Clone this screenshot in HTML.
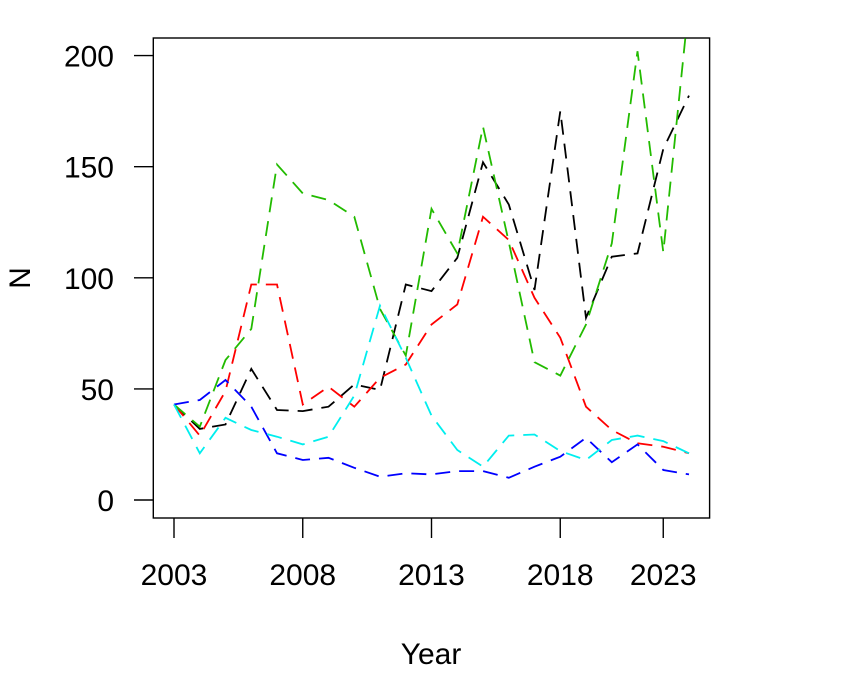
<!DOCTYPE html>
<html><head><meta charset="utf-8"><style>
html,body{margin:0;padding:0;background:#fff;}
svg text{font-family:"Liberation Sans",Arial,sans-serif;fill:#000;}
</style></head><body>
<svg id="chart" width="864" height="672" viewBox="0 0 864 672" xmlns="http://www.w3.org/2000/svg">
<defs><clipPath id="plotclip"><rect x="153.3" y="38" width="556.3" height="480"/></clipPath></defs>
<rect x="153.3" y="38" width="556.3" height="480" fill="none" stroke="#000" stroke-width="1.4"/>
<g id="axes"></g>
<g id="series" clip-path="url(#plotclip)"></g>
<text x="431" y="664" font-size="30" text-anchor="middle">Year</text>
<text transform="translate(30,278) rotate(-90)" font-size="30" text-anchor="middle">N</text>
</svg>
<script>
const xTickIdx = [0, 5, 10, 15, 19];
const xTickLabels = ["2003", "2008", "2013", "2018", "2023"];
const yTicks = [0, 50, 100, 150, 200];
const seriesNames = ["black", "red", "green", "blue", "cyan"];
const seriesColors = ["#000000", "#ff0000", "#22bb00", "#0000ff", "#00eeee"];
const blackVals = [43, 32, 34, 59, 40.5, 40, 42, 52, 49.5, 97, 94, 109, 152, 133, 94.5, 175, 82, 109.5, 111, 158, 182];
const redVals = [43, 29, 49, 97, 97, 43, 51, 42, 55, 61, 79, 88, 127.5, 117, 91, 73, 42, 31.5, 25.5, 24, 21];
const greenVals = [43, 33, 63, 77, 151, 138, 135, 127.5, 86, 65, 131, 111, 168, 116, 62, 56, 79, 115.5, 202, 111.5, 224];
const blueVals = [43, 45, 54, 42, 21, 18, 19, 14.5, 10.5, 12, 11.5, 13, 13, 10, 15, 19.5, 28, 17, 25, 13.5, 11.5];
const cyanVals = [43, 21, 37, 31.5, 28.5, 25, 28.5, 47, 87.5, 64, 38, 22.5, 15, 29, 29.5, 22, 18, 27, 29, 26.5, 21];
const allVals = [blackVals, redVals, greenVals, blueVals, cyanVals];

const X0 = 174, XSTEP = 25.75;
const Y0 = 500, YSCALE = 2.222;
function xPos(i){ return X0 + i * XSTEP; }
function yPos(v){ return Y0 - v * YSCALE; }
const NS = "http://www.w3.org/2000/svg";
const axes = document.getElementById('axes');
const series = document.getElementById('series');

xTickIdx.forEach((ti, k) => {
  const x = xPos(ti);
  const l = document.createElementNS(NS, 'line');
  l.setAttribute('x1', x); l.setAttribute('x2', x);
  l.setAttribute('y1', 518); l.setAttribute('y2', 538);
  l.setAttribute('stroke', '#000'); l.setAttribute('stroke-width', '1.4');
  
  
  axes.appendChild(l);
  const t = document.createElementNS(NS, 'text');
  t.setAttribute('x', x); t.setAttribute('y', 585);
  t.setAttribute('font-size', '30'); t.setAttribute('text-anchor', 'middle');
  t.textContent = xTickLabels[k];
  
  
  axes.appendChild(t);
});
yTicks.forEach(v => {
  const y = yPos(v);
  const l = document.createElementNS(NS, 'line');
  l.setAttribute('x1', 134); l.setAttribute('x2', 153.3);
  l.setAttribute('y1', y); l.setAttribute('y2', y);
  l.setAttribute('stroke', '#000'); l.setAttribute('stroke-width', '1.4');
  
  
  axes.appendChild(l);
  const t = document.createElementNS(NS, 'text');
  t.setAttribute('x', 114); t.setAttribute('y', y + 11);
  t.setAttribute('font-size', '30'); t.setAttribute('text-anchor', 'end');
  t.textContent = String(v);
  
  
  axes.appendChild(t);
});
allVals.forEach((vals, s) => {
  const p = document.createElementNS(NS, 'polyline');
  p.setAttribute('points', vals.map((v, i) => xPos(i).toFixed(1) + ',' + yPos(v).toFixed(1)).join(' '));
  p.setAttribute('fill', 'none');
  p.setAttribute('stroke', seriesColors[s]);
  p.setAttribute('stroke-width', '1.8');
  p.setAttribute('stroke-dasharray', '15,9');
  
  
  series.appendChild(p);
});
</script>
</body></html>
